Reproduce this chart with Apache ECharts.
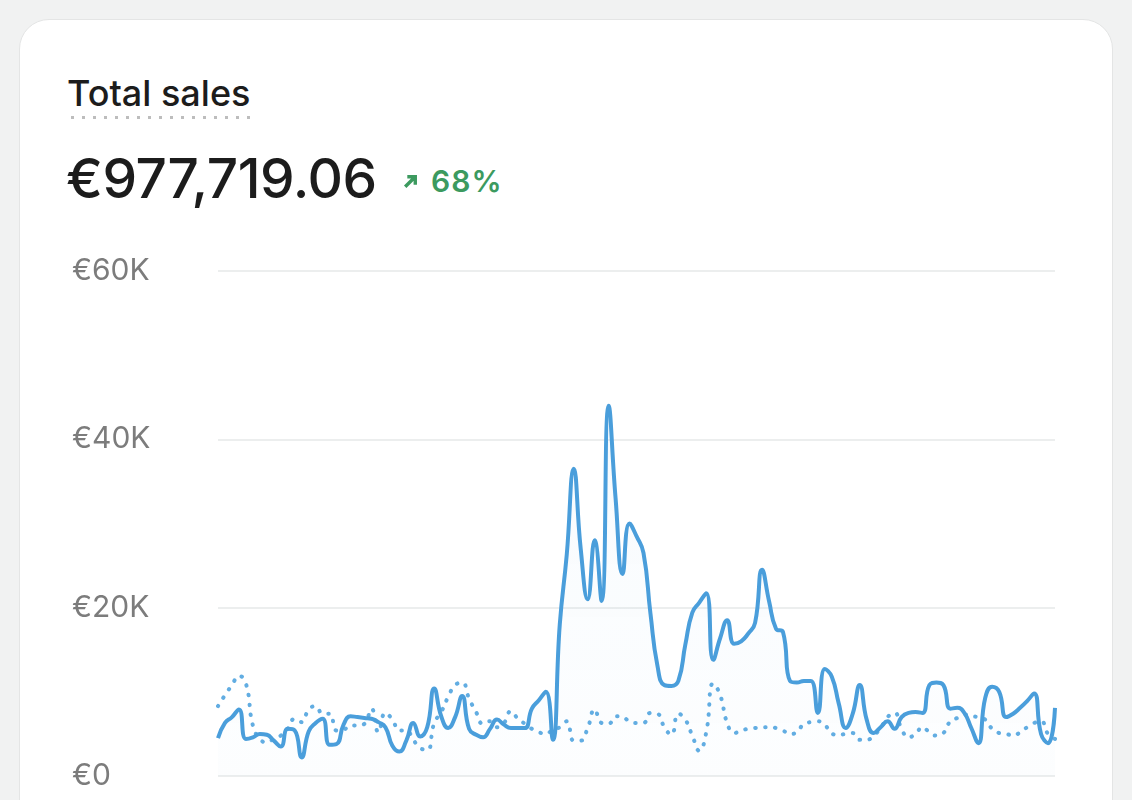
<!DOCTYPE html>
<html>
<head>
<meta charset="utf-8">
<title>Total sales</title>
<script src="https://cdn.jsdelivr.net/npm/echarts@6/dist/echarts.min.js"></script>
<style>
html,body{
	margin:0;
	padding:0;
	width:1132px;
	height:800px;
	overflow:hidden;
	background:#f1f2f2;
	font-family:Inter,"Noto Sans",sans-serif;
}
.card{
	position:absolute;
	left:19px;
	top:19px;
	width:1092px;
	height:820px;
	background:#fff;
	border:1px solid #e4e5e5;
	border-radius:30px;
}
.title{
	position:absolute;
	left:67px;
	top:72px;
	font-size:36px;
	font-weight:500;
	color:#1c1c1c;
	line-height:42px;
	padding-bottom:6px;
	background-image:radial-gradient(circle,#bdbdbd 1.7px,transparent 1.9px);
	background-size:11px 5px;
	background-repeat:repeat-x;
	background-position:0 100%;
}
.total{
	position:absolute;
	left:66px;
	top:147px;
	font-size:55px;
	font-weight:500;
	color:#1c1c1c;
	letter-spacing:-0.5px;
	line-height:62px;
}
.delta{
	position:absolute;
	left:402px;
	top:163px;
	font-size:30px;
	font-weight:600;
	color:#3c9a5f;
	line-height:36px;
	letter-spacing:1px;
}
.delta svg{
	vertical-align:middle;
	margin-right:12px;
	margin-top:-4px;
}
#chart{
	position:absolute;
	left:0;
	top:0;
	width:1132px;
	height:800px;
}
</style>
</head>
<body>
	<div class="card"></div>
	<div class="title">Total sales</div>
	<div class="total">€977,719.06</div>
	<div class="delta"><svg width="17" height="17" viewBox="0 0 16 16"><path d="M3 13 L12 4 M5 3.5 H12.5 V11" stroke="#3c9a5f" stroke-width="3.2" fill="none"/></svg>68%</div>
	<div id="chart"></div>

<script type="text/javascript">
	// 刻度
	var yTicks=[0,20000,40000,60000];
	var tickLabels=['€0','€20K','€40K','€60K'];

	// 当前周期销售额
	var currentSales=[
		4500,6300,7000,7900,4400,4600,5000,4900,4200,3500,
		5600,5400,2200,5300,6300,6800,3700,3800,6100,7100,
		7000,6900,6800,6400,5800,3600,2900,4200,6300,4700,
		5800,10400,7100,5700,7000,9500,5600,4900,4600,5600,
		6700,6100,5700,5700,5700,8000,9000,10000,4300,18000,
		26300,36500,27000,21000,28000,20800,44000,33000,24000,30000,
		28500,26500,19300,13100,10800,10700,11300,15600,19400,20600,
		21700,13800,16400,18500,15700,16000,16900,18200,24500,20800,
		17500,17100,11300,11100,11300,11300,7500,12700,11800,8600,
		5700,7400,10800,6700,5100,5800,6500,5600,7000,7500,
		7600,7500,10800,11100,10800,8000,8100,7500,5700,3900,
		9300,10600,10000,7000,7400,8100,8900,9800,5000,3900,
		8100
	];

	// 上一周期销售额（虚线）
	var previousSales=[
		8300,9600,10800,11900,11000,6000,4400,4000,4400,4800,
		5600,6800,6400,7900,8300,7400,7400,5400,5500,6000,
		6000,6200,8000,5200,7500,6700,5400,5400,4300,3300,
		3100,6300,7600,9400,10800,11100,9200,7600,6200,6500,
		5800,6300,7700,6800,6200,5600,5200,5000,5500,5800,
		6500,4200,4200,5700,7900,6300,6200,7100,7000,6500,
		6300,6300,7500,7400,5800,4900,7400,6700,4800,3000,
		5200,11000,9600,6300,5100,5400,5600,5700,5800,5800,
		5700,5400,5000,5200,6200,6400,6500,6100,5000,4900,
		5000,5100,4300,4300,4800,5700,7000,7500,5600,4600,
		5000,5800,5200,4800,5100,6500,6900,7300,7100,7000,
		6700,5600,5100,5000,4800,5200,5800,6300,6500,5000,
		4400
	];

	var categories=[];
	for(var i=0;i<currentSales.length;i++){
		categories.push(i+1);
	}

	var chart=echarts.init(document.getElementById('chart'));
	var option={
		animation:false,
		grid:{
			left:218,
			right:77,
			top:271,
			bottom:24
		},
		xAxis:{
			type:'category',
			data:categories,
			boundaryGap:false,
			show:false
		},
		yAxis:{
			type:'value',
			min:yTicks[0],
			max:yTicks[yTicks.length-1],
			interval:20000,
			axisLine:{show:false},
			axisTick:{show:false},
			splitLine:{lineStyle:{color:'#eceeee',width:2}},
			axisLabel:{
				align:'left',
				margin:146,
				color:'#7c7c7c',
				fontSize:30,
				fontFamily:'Inter',
				formatter:function(v){
					return tickLabels[yTicks.indexOf(v)];
				}
			}
		},
		series:[
			{
				name:'previous',
				type:'line',
				data:previousSales,
				smooth:true,
				symbol:'none',
				lineStyle:{
					color:'#62ade2',
					width:4,
					type:[0.5,9.5],
					cap:'round'
				}
			},
			{
				name:'current',
				type:'line',
				data:currentSales,
				smooth:true,
				symbol:'none',
				lineStyle:{color:'#4a9edb',width:4},
				areaStyle:{
					color:new echarts.graphic.LinearGradient(0,0,0,1,[
						{offset:0,color:'rgba(74,158,219,0.06)'},
						{offset:1,color:'rgba(74,158,219,0.02)'}
					])
				}
			}
		]
	};
	chart.setOption(option);
</script>
</body>
</html>
